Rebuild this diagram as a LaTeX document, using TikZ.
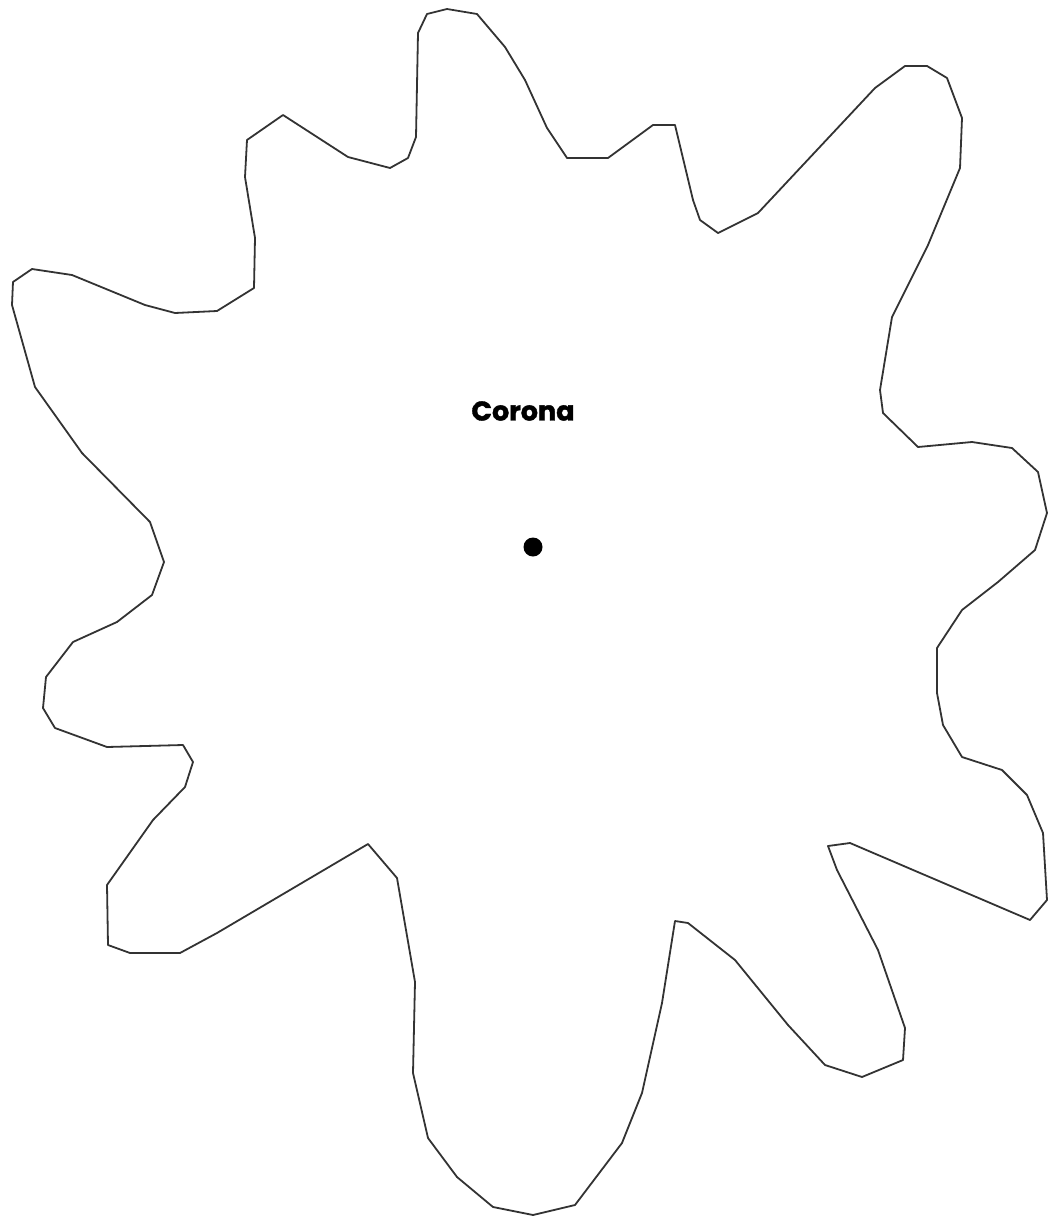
\documentclass[tikz,border=0pt]{standalone}
\usepackage{fontspec}
\newfontfamily\labelfont[BoldFeatures={FakeBold=1.5}]{Poppins}
\begin{document}
\begin{tikzpicture}[x=1pt,y=-1pt,
  outline/.style={draw=black!80, line width=1.8pt, line join=round},
  labeltext/.style={font=\labelfont\bfseries\fontsize{27}{32}\selectfont, inner sep=0pt},
  centerdot/.style={circle, fill=black, inner sep=0pt, minimum size=19pt}]
\useasboundingbox (0,0) rectangle (1050,1221);
\draw[outline] (427,14) -- (447,9) -- (477,14) -- (505,47) -- (525,80) -- (547,128) -- (567,158) -- (608,158) -- (653,125) -- (675,125) -- (693,200) -- (700,220) -- (718,233) -- (758,213) -- (875,88) -- (905,66) -- (927,66) -- (947,78) -- (962,118) -- (960,168) -- (928,245) -- (892,317) -- (880,390) -- (883,413) -- (918,447) -- (972,442) -- (1012,448) -- (1038,472) -- (1047,513) -- (1035,550) -- (998,582) -- (962,610) -- (937,648) -- (937,693) -- (943,725) -- (962,757) -- (1002,770) -- (1027,795) -- (1043,833) -- (1047,900) -- (1030,920) -- (850,843) -- (828,846) -- (837,870) -- (878,950) -- (905,1028) -- (903,1060) -- (862,1077) -- (825,1065) -- (788,1025) -- (735,960) -- (688,923) -- (675,921) -- (662,1003) -- (642,1093) -- (622,1143) -- (575,1205) -- (533,1215) -- (493,1207) -- (457,1177) -- (428,1138) -- (413,1073) -- (415,982) -- (397,878) -- (368,844) -- (217,933) -- (180,953) -- (130,953) -- (108,945) -- (107,885) -- (153,820) -- (185,787) -- (193,762) -- (183,745) -- (107,747) -- (55,728) -- (43,708) -- (46,677) -- (73,642) -- (117,622) -- (152,595) -- (164,562) -- (150,522) -- (82,453) -- (35,387) -- (12,305) -- (13,282) -- (32,269) -- (72,275) -- (145,305) -- (175,313) -- (217,311) -- (254,288) -- (255,238) -- (245,177) -- (247,140) -- (283,115) -- (348,157) -- (390,168) -- (408,158) -- (416,137) -- (418,33) -- cycle;
\node[labeltext] (label) at (523,411) {Corona};
\node[centerdot] (center) at (533,547) {};
\end{tikzpicture}
\end{document}
